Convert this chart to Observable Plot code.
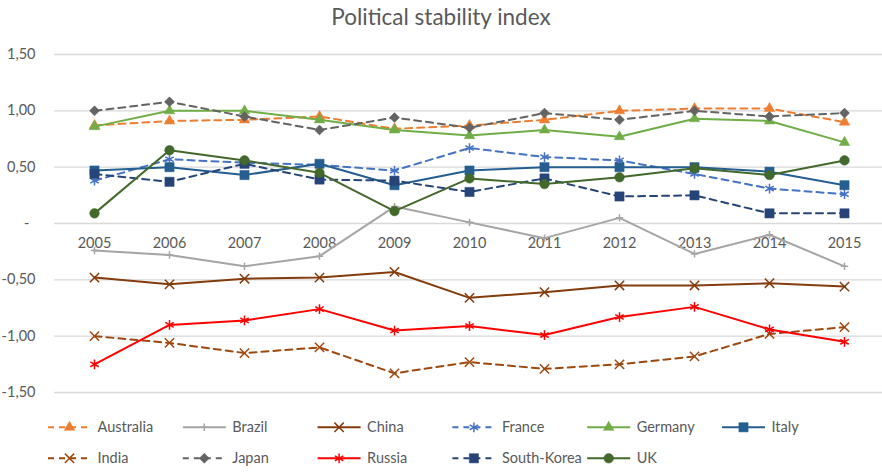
<!DOCTYPE html>
<html><head><meta charset="utf-8">
<script src="https://cdn.jsdelivr.net/npm/d3@7"></script>
<script src="https://cdn.jsdelivr.net/npm/@observablehq/plot@0.6"></script>
<style>
body{margin:0;background:#fff;font-family:Lato,"Open Sans",sans-serif;}
#title{height:36px;line-height:33px;text-align:center;font-size:22.5px;color:#595959;}
#chart svg, #legend svg{display:block;}
</style></head><body>
<div id="title">Political stability index</div>
<div id="chart"></div>
<div id="legend"></div>
<script>
const years = [2005, 2006, 2007, 2008, 2009, 2010, 2011, 2012, 2013, 2014, 2015];
const yTicks = [-1.5, -1, -0.5, 0, 0.5, 1, 1.5];

const australia  = [0.87, 0.91, 0.92, 0.95, 0.84, 0.87, 0.92, 1.00, 1.02, 1.02, 0.90];
const brazil     = [-0.24, -0.28, -0.38, -0.29, 0.15, 0.01, -0.13, 0.05, -0.27, -0.10, -0.38];
const china      = [-0.48, -0.54, -0.49, -0.48, -0.43, -0.66, -0.61, -0.55, -0.55, -0.53, -0.56];
const france     = [0.38, 0.57, 0.54, 0.52, 0.47, 0.67, 0.59, 0.56, 0.44, 0.31, 0.26];
const germany    = [0.86, 1.00, 1.00, 0.92, 0.83, 0.78, 0.83, 0.77, 0.93, 0.91, 0.72];
const italy      = [0.47, 0.50, 0.43, 0.53, 0.34, 0.47, 0.50, 0.50, 0.50, 0.46, 0.34];
const india      = [-1.00, -1.06, -1.15, -1.10, -1.33, -1.23, -1.29, -1.25, -1.18, -0.98, -0.92];
const japan      = [1.00, 1.08, 0.95, 0.83, 0.94, 0.85, 0.98, 0.92, 1.00, 0.95, 0.98];
const russia     = [-1.25, -0.90, -0.86, -0.76, -0.95, -0.91, -0.99, -0.83, -0.74, -0.94, -1.05];
const southKorea = [0.44, 0.37, 0.53, 0.39, 0.38, 0.28, 0.40, 0.24, 0.25, 0.09, 0.09];
const uk         = [0.09, 0.65, 0.56, 0.45, 0.11, 0.40, 0.35, 0.41, 0.49, 0.43, 0.56];

const series = [
  {name:"Australia",   values:australia,  color:"#ED7D31", dash:true,  symbol:"triangle", filled:true,  r:3.9},
  {name:"Brazil",      values:brazil,     color:"#A5A5A5", dash:false, symbol:"plus",     filled:false, r:2.5},
  {name:"China",       values:china,      color:"#843C0C", dash:false, symbol:"times",    filled:false, r:4.3},
  {name:"France",      values:france,     color:"#4472C4", dash:true,  symbol:"asterisk", filled:false, r:4.6},
  {name:"Germany",     values:germany,    color:"#70AD47", dash:false, symbol:"triangle", filled:true,  r:3.9},
  {name:"Italy",       values:italy,      color:"#255E91", dash:false, symbol:"square",   filled:true,  r:5.2},
  {name:"India",       values:india,      color:"#9E480E", dash:true,  symbol:"times",    filled:false, r:4.3},
  {name:"Japan",       values:japan,      color:"#636363", dash:true,  symbol:"diamond2", filled:true,  r:4.5},
  {name:"Russia",      values:russia,     color:"#FF0000", dash:false, symbol:"asterisk", filled:false, r:4.6},
  {name:"South-Korea", values:southKorea, color:"#264478", dash:true,  symbol:"square",   filled:true,  r:5.2},
  {name:"UK",          values:uk,         color:"#43682B", dash:false, symbol:"circle",   filled:true,  r:4.8}
];

const DASH = "7,5";
const txt = "#595959";
const fmt = v => (v < 0 ? "-" : "") + Math.abs(v).toFixed(2).replace(".", ",");

const marks = [
  Plot.gridY({ticks: yTicks, stroke: "#d9d9d9", strokeOpacity: 1, strokeWidth: 1.3}),
  Plot.axisY({ticks: yTicks.filter(t => t !== 0), tickFormat: fmt, tickSize: 0, tickPadding: 19, fontSize: 14.5, fill: txt, label: null}),
  Plot.axisY({ticks: [0], tickFormat: () => "-", tickSize: 0, tickPadding: 25, fontSize: 14.5, fill: txt, label: null}),
  Plot.text(years, {x: d => d, y: 0, text: d => String(d), dy: 20, fontSize: 14.5, fill: txt})
];

for (const s of series) {
  const rows = s.values.map((v, i) => ({year: years[i], value: v}));
  marks.push(Plot.line(rows, {x: "year", y: "value", stroke: s.color, strokeWidth: 2, strokeDasharray: s.dash ? DASH : null}));
  marks.push(Plot.dot(rows, {
    x: "year", y: "value", symbol: s.symbol, r: s.r,
    fill: s.filled ? s.color : "none",
    stroke: s.color, strokeWidth: s.filled ? 0.5 : 1.5
  }));
}

const chart = Plot.plot({
  width: 882, height: 372,
  marginTop: 18, marginBottom: 16, marginLeft: 54, marginRight: 0,
  style: {fontFamily: "Lato, 'Open Sans', sans-serif", background: "#fff"},
  x: {type: "point", domain: years, range: [54, 884], padding: 0.5, axis: null},
  y: {domain: [-1.5, 1.5], label: null},
  marks
});
document.getElementById("chart").appendChild(chart);

// Legend
const symMap = {triangle: d3.symbolTriangle, plus: d3.symbolPlus, times: d3.symbolTimes, asterisk: d3.symbolAsterisk,
  square: d3.symbolSquare, diamond2: d3.symbolDiamond2, circle: d3.symbolCircle};
const lsvg = d3.select("#legend").append("svg").attr("width", 882).attr("height", 64)
  .style("font-family", "Lato, 'Open Sans', sans-serif");
series.forEach((s, i) => {
  const col = i % 6, row = Math.floor(i / 6);
  const x0 = 48 + col * 134.8, y = 19.3 + row * 31;
  const g = lsvg.append("g");
  g.append("line").attr("x1", x0).attr("x2", x0 + 43).attr("y1", y).attr("y2", y)
    .attr("stroke", s.color).attr("stroke-width", 2).attr("stroke-dasharray", s.dash ? "6,5" : null);
  g.append("path").attr("d", d3.symbol(symMap[s.symbol], Math.PI * s.r * s.r)())
    .attr("transform", `translate(${x0 + 21.5},${y})`)
    .attr("fill", s.filled ? s.color : "none").attr("stroke", s.color).attr("stroke-width", s.filled ? 0.5 : 1.5);
  g.append("text").attr("x", x0 + 49.5).attr("y", y).attr("dy", "0.35em")
    .attr("font-size", 14.5).attr("fill", txt).text(s.name);
});
</script>
</body></html>
